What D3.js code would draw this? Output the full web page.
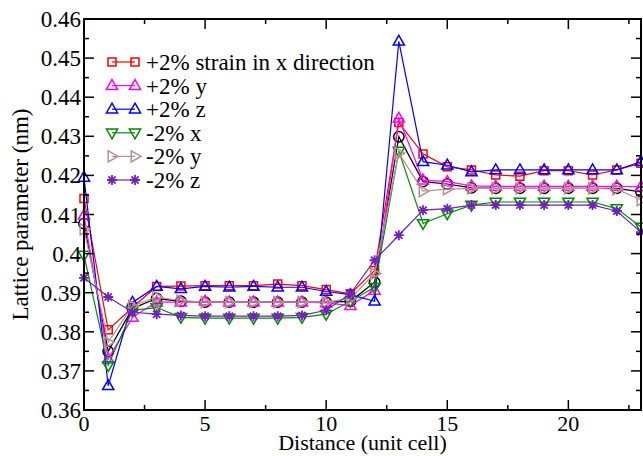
<!DOCTYPE html>
<html>
<head>
<meta charset="utf-8">
<script src="https://cdn.jsdelivr.net/npm/d3@7"></script>
<style>
  body { margin: 0; background: #fff; }
  svg { display: block; font-family: "Liberation Serif", "Times New Roman", serif; }
</style>
</head>
<body>
<div class="chart"></div>
<script>
// distance index 0..23 (unit cell)
const cells = d3.range(0, 24)

// lattice parameter (nm)
const unstrained = [0.4077, 0.3750, 0.3860, 0.3885, 0.3878, 0.3876, 0.3876, 0.3876, 0.3876, 0.3876, 0.3876, 0.3878, 0.3927, 0.4299, 0.4184, 0.4178, 0.4168, 0.4167, 0.4167, 0.4167, 0.4167, 0.4167, 0.4167, 0.4158]
const plusX = [0.4141, 0.3805, 0.3862, 0.3916, 0.3917, 0.3918, 0.3918, 0.3918, 0.3922, 0.3918, 0.3908, 0.3897, 0.3957, 0.4335, 0.4255, 0.4222, 0.4214, 0.4201, 0.4198, 0.4212, 0.4212, 0.4201, 0.4214, 0.4231]
const plusY = [0.4098, 0.3730, 0.3837, 0.3876, 0.3876, 0.3878, 0.3876, 0.3876, 0.3876, 0.3876, 0.3874, 0.3867, 0.3906, 0.4346, 0.4188, 0.4184, 0.4173, 0.4172, 0.4172, 0.4172, 0.4172, 0.4172, 0.4172, 0.4171]
const plusZ = [0.4195, 0.3662, 0.3875, 0.3916, 0.3910, 0.3916, 0.3914, 0.3916, 0.3914, 0.3914, 0.3903, 0.3895, 0.3878, 0.4543, 0.4235, 0.4226, 0.4209, 0.4214, 0.4214, 0.4214, 0.4214, 0.4214, 0.4214, 0.4235]
const minusX = [0.3996, 0.3714, 0.3855, 0.3862, 0.3837, 0.3835, 0.3835, 0.3835, 0.3835, 0.3837, 0.3845, 0.3878, 0.3914, 0.4262, 0.4077, 0.4102, 0.4124, 0.4132, 0.4132, 0.4132, 0.4132, 0.4132, 0.4115, 0.4068]
const minusY = [0.4062, 0.3773, 0.3866, 0.3889, 0.3880, 0.3876, 0.3876, 0.3876, 0.3876, 0.3876, 0.3876, 0.3885, 0.3949, 0.4257, 0.4160, 0.4165, 0.4167, 0.4167, 0.4167, 0.4167, 0.4167, 0.4167, 0.4165, 0.4137]
const minusZ = [0.3938, 0.3889, 0.3850, 0.3845, 0.3842, 0.3840, 0.3840, 0.3840, 0.3840, 0.3842, 0.3855, 0.3897, 0.3983, 0.4047, 0.4111, 0.4115, 0.4124, 0.4124, 0.4124, 0.4124, 0.4124, 0.4124, 0.4109, 0.4055]

const seriesLabels = [null, "+2% strain in x direction", "+2% y", "+2% z", "-2% x", "-2% y", "-2% z"]
const xTicks = [0, 5, 10, 15, 20]
const yTicks = [0.36, 0.37, 0.38, 0.39, 0.4, 0.41, 0.42, 0.43, 0.44, 0.45, 0.46]

const series = [
    { values: unstrained, color: "#000000", symbol: "circle" },
    { values: plusX, color: "#ff0000", symbol: "square" },
    { values: plusY, color: "#ff00ff", symbol: "triUp" },
    { values: plusZ, color: "#0000ff", symbol: "triUp" },
    { values: minusX, color: "#008b00", symbol: "triDown" },
    { values: minusY, color: "#bc8f8f", symbol: "triRight" },
    { values: minusZ, color: "#7221bc", symbol: "star" },
].map((s, i) => ({ ...s, label: seriesLabels[i] }))

const width = 643, height = 456
const margin = { left: 84, right: 2, top: 19, bottom: 46 }

const svg = d3.select(".chart").append("svg")
    .attr("width", width)
    .attr("height", height)

const x = d3.scaleLinear().domain([0, 23]).range([margin.left, width - margin.right])
const y = d3.scaleLinear().domain([0.36, 0.46]).range([height - margin.bottom, margin.top])

// symbol paths centred on 0,0
const symbolPath = (kind) => {
    switch (kind) {
        case "circle": return d3.arc()({ innerRadius: 0, outerRadius: 5.2, startAngle: 0, endAngle: 2 * Math.PI })
        case "square": return "M-4,-4H4V4H-4Z"
        case "triUp": return "M0,-6L5.6,3.8H-5.6Z"
        case "triDown": return "M0,6L5.6,-3.8H-5.6Z"
        case "triRight": return "M6,0L-3.8,5.6V-5.6Z"
        case "star": return "M-5,0H5M0,-5V5M-3.6,-3.6L3.6,3.6M-3.6,3.6L3.6,-3.6"
    }
}

const plot = svg.append("g")

const line = d3.line().x((d, i) => x(cells[i])).y(d => y(d))

series.forEach(s => {
    const g = plot.append("g")
    g.append("path")
        .attr("d", line(s.values))
        .attr("fill", "none")
        .attr("stroke", s.color)
        .attr("stroke-width", 1.2)
    g.selectAll("path.sym")
        .data(s.values)
        .join("path")
        .attr("class", "sym")
        .attr("transform", (d, i) => `translate(${x(cells[i])},${y(d)})`)
        .attr("d", symbolPath(s.symbol))
        .attr("fill", "none")
        .attr("stroke", s.color)
        .attr("stroke-width", s.symbol === "star" ? 1.8 : 1.5)
})

// frame + ticks (inward, on all four sides)
const axes = svg.append("g").attr("stroke", "#000")
axes.append("rect")
    .attr("x", x(0)).attr("y", y(0.46))
    .attr("width", x(23) - x(0)).attr("height", y(0.36) - y(0.46))
    .attr("fill", "none").attr("stroke-width", 2)

const xMinor = d3.range(2.5, 23, 5)
const yMinor = d3.range(0.365, 0.46, 0.01)

const tickX = (vals, len) => vals.forEach(v => {
    axes.append("line").attr("x1", x(v)).attr("x2", x(v)).attr("y1", y(0.36)).attr("y2", y(0.36) - len).attr("stroke-width", 1.5)
    axes.append("line").attr("x1", x(v)).attr("x2", x(v)).attr("y1", y(0.46)).attr("y2", y(0.46) + len).attr("stroke-width", 1.5)
})
const tickY = (vals, len) => vals.forEach(v => {
    axes.append("line").attr("y1", y(v)).attr("y2", y(v)).attr("x1", x(0)).attr("x2", x(0) + len).attr("stroke-width", 1.5)
    axes.append("line").attr("y1", y(v)).attr("y2", y(v)).attr("x1", x(23)).attr("x2", x(23) - len).attr("stroke-width", 1.5)
})
tickX(xTicks.slice(1), 10)
tickX(xMinor, 5)
tickY(yTicks.slice(1, -1), 10)
tickY(yMinor, 5)

svg.append("g").selectAll("text")
    .data(xTicks)
    .join("text")
    .attr("x", d => x(d))
    .attr("y", height - margin.bottom + 21)
    .attr("text-anchor", "middle")
    .attr("font-size", 22)
    .text(d => d)

svg.append("g").selectAll("text")
    .data(yTicks)
    .join("text")
    .attr("x", x(0) - 3)
    .attr("y", d => y(d) + 8)
    .attr("text-anchor", "end")
    .attr("font-size", 23)
    .text(d => d3.format("")(+d.toFixed(2)))

svg.append("text")
    .attr("x", (x(0) + x(23)) / 2)
    .attr("y", 450)
    .attr("text-anchor", "middle")
    .attr("font-size", 22)
    .text("Distance (unit cell)")

svg.append("text")
    .attr("transform", `translate(28,${(y(0.36) + y(0.46)) / 2}) rotate(-90)`)
    .attr("text-anchor", "middle")
    .attr("font-size", 23)
    .text("Lattice parameter (nm)")

// legend
const legend = svg.append("g")
series.filter(s => s.label).forEach((s, i) => {
    const ly = 62 + i * 23.6
    const g = legend.append("g").attr("transform", `translate(0,${ly})`)
    g.append("line").attr("x1", 112).attr("x2", 135).attr("stroke", s.color).attr("stroke-width", 1.2)
    ;[112, 135].forEach(px => g.append("path")
        .attr("transform", `translate(${px},0)`)
        .attr("d", symbolPath(s.symbol))
        .attr("fill", "none")
        .attr("stroke", s.color)
        .attr("stroke-width", s.symbol === "star" ? 1.8 : 1.5))
    g.append("text")
        .attr("x", 146)
        .attr("y", 8)
        .attr("font-size", 23)
        .text(s.label)
})
</script>
</body>
</html>
